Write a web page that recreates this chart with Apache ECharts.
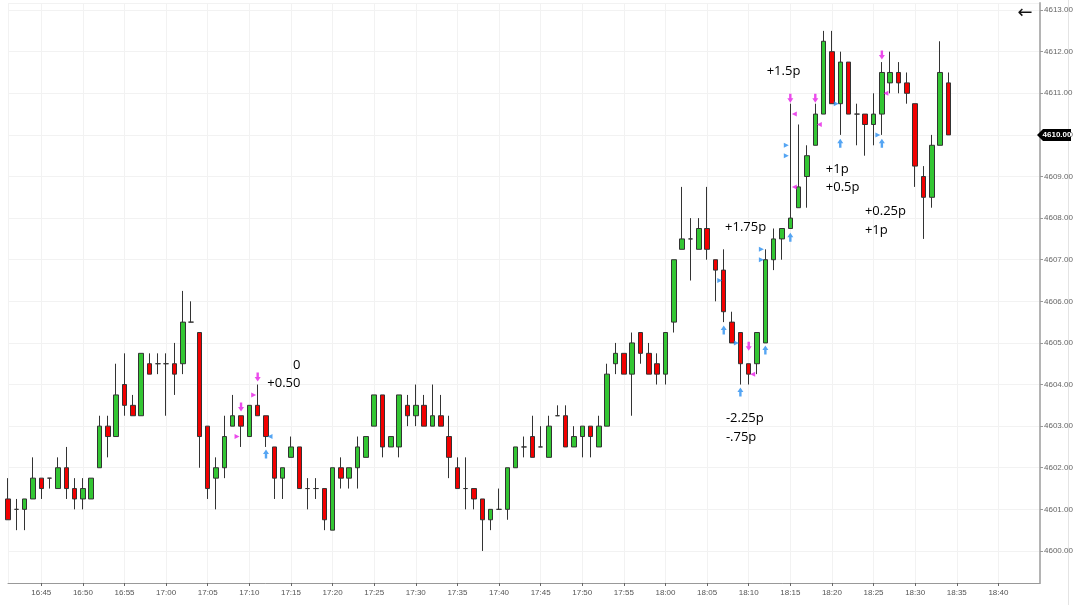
<!DOCTYPE html>
<html>
<head>
<meta charset="utf-8">
<title>1 min candles</title>
<script src="https://cdn.jsdelivr.net/npm/echarts@6/dist/echarts.min.js"></script>
<style>
html, body { margin:0; padding:0; background:#fff; }
#main { width:1076px; height:605px; }
</style>
</head>
<body>
<div id="main"></div>
<script>
// minutes are counted from 16:40, first bar is 16:41
var firstBar = 1;
var opens = [
    4601.25,4601,4601,4601.25,4601.75,4601.75,4601.5,4602,4601.5,4601.25,
    4601.25,4602,4603,4602.75,4604,4603.5,4603.25,4604.5,4604.5,4604.5,
    4604.5,4604.5,4605.5,4605.25,4603,4601.75,4602,4603,4603.25,4602.75,
    4603.5,4603.25,4602.5,4601.75,4602.25,4602.5,4601.5,4601.5,4601.5,4600.5,
    4602,4601.75,4602,4602.25,4603,4603.75,4602.5,4602.5,4603.5,4603.25,
    4603.5,4603,4603.25,4602.75,4602,4601.5,4601.5,4601.25,4600.75,4601,
    4601,4602,4602.5,4602.75,4602.5,4602.25,4603.25,4603.25,4602.5,4602.75,
    4603,4602.5,4603,4604.5,4604.75,4604.25,4605.25,4604.75,4604.5,4604.25,
    4605.5,4607.25,4607.5,4607.25,4607.75,4607,4606.75,4605.5,4605.25,4604.5,
    4604.5,4605,4607,4607.5,4607.75,4608.25,4609,4609.75,4610.5,4612,
    4610.75,4611.75,4610.5,4610.5,4610.25,4610.5,4611.25,4611.5,4611.25,4610.75,
    4609,4608.5,4609.75,4611.25
];
var closes = [
    4600.75,4601,4601.25,4601.75,4601.5,4601.75,4602,4601.5,4601.25,4601.5,
    4601.75,4603,4602.75,4603.75,4603.5,4603.25,4604.75,4604.25,4604.5,4604.5,
    4604.25,4605.5,4605.5,4602.75,4601.5,4602,4602.75,4603.25,4603,4603.5,
    4603.25,4602.75,4601.75,4602,4602.5,4601.5,4601.5,4601.5,4600.75,4602,
    4601.75,4602,4602.5,4602.75,4603.75,4602.5,4602.75,4603.75,4603.25,4603.5,
    4603,4603.25,4603,4602.25,4601.5,4601.5,4601.25,4600.75,4601,4601,
    4602,4602.5,4602.5,4602.25,4602.5,4603,4603.25,4602.5,4602.75,4603,
    4602.75,4603,4604.25,4604.75,4604.25,4605,4604.75,4604.25,4604.25,4605.25,
    4607,4607.5,4607.5,4607.75,4607.25,4606.75,4605.75,4605,4604.5,4604.25,
    4605.25,4607,4607.5,4607.75,4608,4608.75,4609.5,4610.5,4612.25,4610.75,
    4611.75,4610.5,4610.5,4610.25,4610.5,4611.5,4611.5,4611.25,4611,4609.25,
    4608.5,4609.75,4611.5,4610
];
var lows = [
    4600.75,4600.5,4600.5,4601.25,4601.25,4601.5,4601.5,4601.25,4601,4601,
    4601.25,4602,4602.25,4602.75,4603.25,4603.25,4603.25,4604.25,4604.25,4603.25,
    4603.75,4604.25,4605.5,4602,4601.25,4601,4601.75,4603,4602.5,4602.75,
    4603.25,4602.5,4601.25,4601.25,4602.25,4601.5,4601,4601.25,4600.5,4600.5,
    4601.5,4601.5,4601.5,4602.25,4603,4602.25,4602.5,4602.25,4603,4603,
    4603,4603,4603,4601.75,4601.5,4601,4601,4600,4600.5,4601,
    4600.75,4602,4602.25,4602.25,4602.5,4602.25,4603.25,4602.5,4602.5,4602.25,
    4602.25,4602.5,4603,4604.25,4604.25,4603.25,4604.5,4604.25,4604,4604,
    4605.25,4607.25,4606.5,4607.25,4607,4606,4605.5,4605,4604,4604,
    4604.25,4605,4606.75,4607,4607.75,4608.25,4608.25,4609.75,4610.5,4610.75,
    4610,4610.5,4609.75,4609.5,4609.75,4610,4611,4611,4610.75,4608.75,
    4607.5,4608.25,4609.75,4610
];
var highs = [
    4601.75,4601.25,4601.25,4602.25,4601.75,4601.75,4602.25,4602.5,4601.75,4601.75,
    4601.75,4603.25,4603.25,4604.5,4604.75,4603.75,4604.75,4604.75,4604.75,4604.75,
    4605,4606.25,4606,4605.25,4603,4602.25,4603.25,4603.75,4603.25,4603.5,
    4604,4603.25,4602.5,4602,4602.75,4602.5,4601.75,4601.75,4601.5,4602,
    4602.25,4602,4602.75,4602.75,4603.75,4603.75,4602.75,4603.75,4603.75,4604,
    4603.75,4604,4603.75,4603.25,4602.25,4602.25,4601.5,4601.25,4601,4601.5,
    4602,4602.5,4602.75,4603.25,4603,4603.25,4603.5,4603.5,4603,4603,
    4603,4603.25,4604.5,4605,4604.75,4605.25,4605.25,4605,4604.75,4605.25,
    4607,4608.75,4608,4608,4608.75,4607,4607.25,4605.75,4605.25,4604.5,
    4605.25,4607.25,4607.75,4607.75,4610.75,4610.25,4609.75,4610.75,4612.5,4612.5,
    4612,4611.75,4610.75,4610.5,4611,4611.75,4612,4611.75,4611.5,4610.75,
    4609.25,4610,4612.25,4611.5
];

// trade markers: [minute, price]
var sellArrows = [[29,4603.46],[31,4604.18],[90,4604.92],[95,4610.88],[98,4610.88],[106,4611.92]];
var buyArrows = [[32,4602.33],[87,4605.31],[89,4603.82],[92,4604.83],[95,4607.54],[101,4609.80],[106,4609.80]];
var magentaRight = [[29,4602.75],[31,4603.75]];
var magentaLeft = [[90,4604.25],[95,4610.5],[95,4608.75],[98,4610.25],[106,4611]];
var blueRight = [[87,4606.5],[89,4605],[92,4607.25],[92,4607],[95,4609.75],[95,4609.5],[101,4610.75],[106,4610]];
var blueLeft = [[32,4602.75]];

// notes, left aligned ones and right aligned ones
var noteText = ['+1.5p','+1.75p','-2.25p','-.75p','+1p','+0.5p','+0.25p','+1p'];
var notePos = [[92.1,4611.53],[87.1,4607.78],[87.2,4603.19],[87.2,4602.74],[99.2,4609.18],[99.2,4608.75],[103.9,4608.17],[103.9,4607.71]];
var noteTextR = ['0','+0.50'];
var notePosR = [[36.2,4604.47],[36.2,4604.03]];

var candles = [];
for (var i = 0; i < opens.length; i++) {
    candles.push([firstBar + i, opens[i], closes[i], lows[i], highs[i]]);
}
var lastClose = closes[closes.length - 1];

function minuteLabel(m) {
    var t = 16 * 60 + 40 + Math.round(m);
    var mm = t % 60;
    return Math.floor(t / 60) + ':' + (mm < 10 ? '0' + mm : mm);
}
function notes(texts, pos) {
    var out = [];
    for (var i = 0; i < texts.length; i++) out.push({value: pos[i], name: texts[i]});
    return out;
}

var DOWN = 'path://M3,0 H7 V6 H10 L5,12 L0,6 H3 Z';
var UP = 'path://M5,0 L10,6 H7 V12 H3 V6 H0 Z';
var MAGENTA = '#e61ee6';
var BLUE = '#2b8ff0';

var myChart = echarts.init(document.getElementById('main'));
var option = {
    animation: false,
    backgroundColor: '#fff',
    grid: {left: 8, right: 36, top: 3, bottom: 22},
    xAxis: {
        type: 'value',
        min: 1,
        max: 125,
        minInterval: 5,
        maxInterval: 5,
        axisLine: {lineStyle: {color: '#999', width: 1}},
        axisTick: {show: true, length: 3, lineStyle: {color: '#666'}},
        axisLabel: {
            color: '#555', fontSize: 8, fontFamily: 'Liberation Sans, Arial', margin: 6,
            showMinLabel: false, showMaxLabel: false,
            formatter: minuteLabel
        },
        splitLine: {show: true, lineStyle: {color: '#f2f2f2'}}
    },
    yAxis: {
        type: 'value',
        position: 'right',
        min: 4599.23,
        max: 4613.17,
        minInterval: 1,
        maxInterval: 1,
        axisLine: {show: true, lineStyle: {color: '#b4b4b4', width: 2}},
        axisTick: {show: true, length: 3, lineStyle: {color: '#999'}},
        axisLabel: {
            color: '#666', fontSize: 8, fontFamily: 'Liberation Sans, Arial', margin: 4,
            showMinLabel: false, showMaxLabel: false,
            formatter: function (v) { return v.toFixed(2); }
        },
        splitLine: {show: true, lineStyle: {color: '#f2f2f2'}}
    },
    series: [
        {
            type: 'candlestick',
            data: candles,
            encode: {x: 0, y: [1, 2, 3, 4]},
            barWidth: 5,
            clip: false,
            itemStyle: {
                color: '#33c633',
                color0: '#f20000',
                borderColor: '#333',
                borderColor0: '#333',
                borderWidth: 1
            }
        },
        {
            type: 'scatter', data: sellArrows, symbol: DOWN, symbolSize: [6, 9],
            itemStyle: {color: MAGENTA}, z: 5
        },
        {
            type: 'scatter', data: buyArrows, symbol: UP, symbolSize: [6, 9],
            itemStyle: {color: BLUE}, z: 5
        },
        {
            type: 'scatter', data: magentaRight, symbol: 'triangle', symbolSize: 5,
            symbolRotate: -90, symbolOffset: [-4, 0], itemStyle: {color: MAGENTA}, z: 5
        },
        {
            type: 'scatter', data: magentaLeft, symbol: 'triangle', symbolSize: 5,
            symbolRotate: 90, symbolOffset: [4, 0], itemStyle: {color: MAGENTA}, z: 5
        },
        {
            type: 'scatter', data: blueRight, symbol: 'triangle', symbolSize: 5,
            symbolRotate: -90, symbolOffset: [-4, 0], itemStyle: {color: BLUE}, z: 5
        },
        {
            type: 'scatter', data: blueLeft, symbol: 'triangle', symbolSize: 5,
            symbolRotate: 90, symbolOffset: [4, 0], itemStyle: {color: BLUE}, z: 5
        },
        {
            type: 'scatter', data: notes(noteText, notePos), symbolSize: 1,
            itemStyle: {color: 'rgba(0,0,0,0)'},
            label: {
                show: true, position: 'right', distance: 0, formatter: '{b}',
                color: '#000', fontSize: 13, fontFamily: 'Open Sans', opacity: 1
            }
        },
        {
            type: 'scatter', data: notes(noteTextR, notePosR), symbolSize: 1,
            itemStyle: {color: 'rgba(0,0,0,0)'},
            label: {
                show: true, position: 'left', distance: 0, formatter: '{b}',
                color: '#000', fontSize: 13, fontFamily: 'Open Sans', opacity: 1
            }
        }
    ]
};
myChart.setOption(option);

// last price tag on the price axis
var p = myChart.convertToPixel({gridIndex: 0}, [125, lastClose]);
myChart.setOption({
    graphic: [
        {
            type: 'polygon', z: 10,
            shape: {points: [[p[0] - 3, p[1]], [p[0] + 3, p[1] - 6], [p[0] + 31, p[1] - 6], [p[0] + 31, p[1] + 6], [p[0] + 3, p[1] + 6]]},
            style: {fill: '#000'}
        },
        {
            type: 'text', z: 11, x: p[0] + 17, y: p[1],
            style: {text: lastClose.toFixed(2), fill: '#fff', fontSize: 8, fontWeight: 'bold',
                    fontFamily: 'Liberation Sans, Arial', align: 'center', verticalAlign: 'middle'}
        },
        {
            type: 'text', x: 1025, y: 13,
            style: {text: '\u2190', fill: '#111', fontSize: 18, fontFamily: 'DejaVu Sans',
                    align: 'center', verticalAlign: 'middle'}
        },
        {
            type: 'line', shape: {x1: 1068.5, y1: 0, x2: 1068.5, y2: 605},
            style: {stroke: '#e4e4e4', lineWidth: 1}
        }
    ]
});
</script>
</body>
</html>
